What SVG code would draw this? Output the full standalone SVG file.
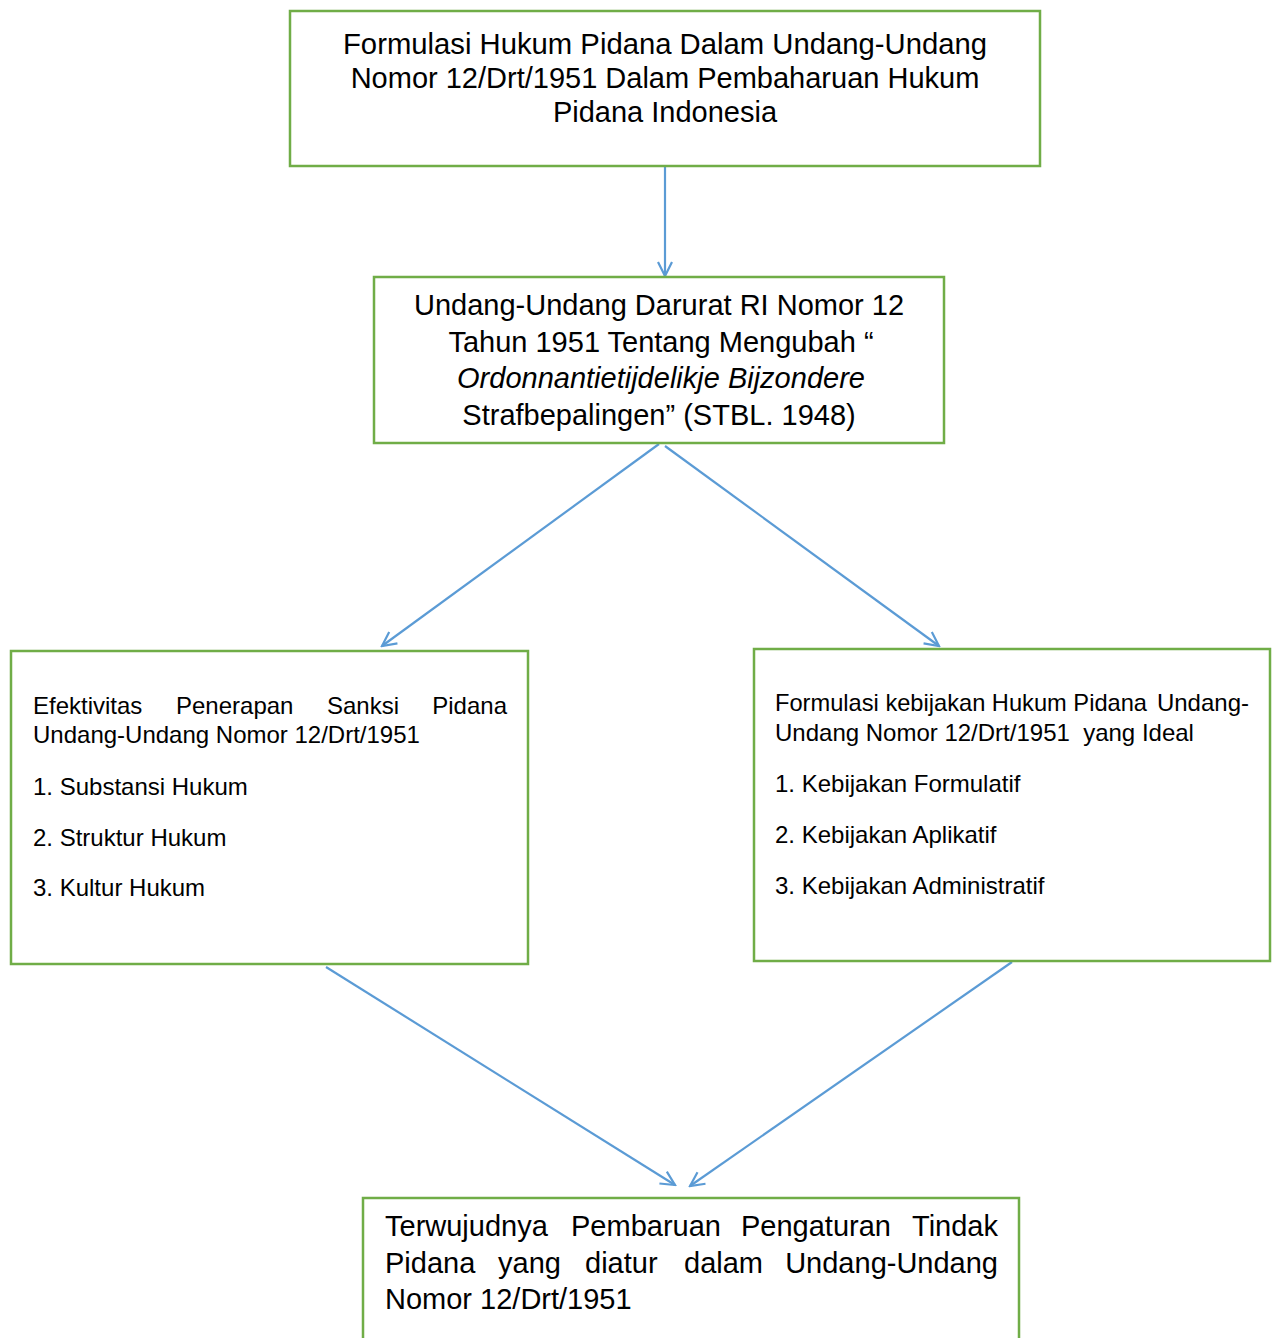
<svg xmlns="http://www.w3.org/2000/svg" width="1277" height="1338" viewBox="0 0 1277 1338">
<style>
.box{fill:#fff;stroke:#70AD47;stroke-width:2.5}
.big{font-family:"Liberation Sans",Arial,sans-serif;font-size:29px;fill:#000}
.sm{font-family:"Liberation Sans",Arial,sans-serif;font-size:24px;fill:#000}
.c{text-anchor:middle}
.e{text-anchor:end}
.it{font-style:italic}
.con{stroke:#5B9BD5;stroke-width:2.2;fill:none;marker-end:url(#arr)}
</style>
<defs>
<marker id="arr" viewBox="0 0 18 18" refX="16" refY="9" markerWidth="18" markerHeight="18" markerUnits="userSpaceOnUse" orient="auto">
<path d="M2,2 L16,9 L2,16" fill="none" stroke="#5B9BD5" stroke-width="2.2"/>
</marker>
</defs>
<rect width="1277" height="1338" fill="#fff"/>
<g id="connectors">
<line class="con" x1="665" y1="167" x2="665" y2="276"/>
<line class="con" x1="659" y1="444" x2="382" y2="646"/>
<line class="con" x1="665" y1="446" x2="939" y2="646"/>
<line class="con" x1="326" y1="967" x2="675" y2="1185"/>
<line class="con" x1="1012" y1="962" x2="690" y2="1186"/>
</g>
<g id="node1">
<rect class="box" x="290" y="11" width="750" height="155"/>
<text class="big c" x="665" y="54" textLength="644" lengthAdjust="spacingAndGlyphs">Formulasi Hukum Pidana Dalam Undang-Undang</text>
<text class="big c" x="665" y="88">Nomor 12/Drt/1951 Dalam Pembaharuan Hukum</text>
<text class="big c" x="665" y="122">Pidana Indonesia</text>
</g>
<g id="node2">
<rect class="box" x="374" y="277" width="570" height="166"/>
<text class="big c" x="659" y="315">Undang-Undang Darurat RI Nomor 12</text>
<text class="big c" x="661" y="352">Tahun 1951 Tentang Mengubah “</text>
<text class="big c it" x="661" y="388">Ordonnantietijdelikje Bijzondere</text>
<text class="big c" x="659" y="425">Strafbepalingen” (STBL. 1948)</text>
</g>
<g id="node3">
<rect class="box" x="11" y="651" width="517" height="313"/>
<text class="sm" x="33" y="713.5">Efektivitas</text>
<text class="sm" x="176" y="713.5">Penerapan</text>
<text class="sm" x="327" y="713.5">Sanksi</text>
<text class="sm e" x="507" y="713.5">Pidana</text>
<text class="sm" x="33" y="742.5">Undang-Undang Nomor 12/Drt/1951</text>
<text class="sm" x="33" y="794.5">1. Substansi Hukum</text>
<text class="sm" x="33" y="845.5">2. Struktur Hukum</text>
<text class="sm" x="33" y="895.5">3. Kultur Hukum</text>
</g>
<g id="node4">
<rect class="box" x="754" y="649" width="516" height="312"/>
<text class="sm" x="775" y="710.5" textLength="372" lengthAdjust="spacingAndGlyphs">Formulasi kebijakan Hukum Pidana</text>
<text class="sm e" x="1249" y="710.5">Undang-</text>
<text class="sm" x="775" y="740.5" xml:space="preserve">Undang Nomor 12/Drt/1951  yang Ideal</text>
<text class="sm" x="775" y="791.5">1. Kebijakan Formulatif</text>
<text class="sm" x="775" y="842.5">2. Kebijakan Aplikatif</text>
<text class="sm" x="775" y="893.5">3. Kebijakan Administratif</text>
</g>
<g id="node5">
<rect class="box" x="363" y="1198" width="656" height="150"/>
<text class="big" x="385" y="1236">Terwujudnya</text>
<text class="big" x="571" y="1236">Pembaruan</text>
<text class="big" x="741" y="1236">Pengaturan</text>
<text class="big e" x="998" y="1236">Tindak</text>
<text class="big" x="385" y="1273">Pidana</text>
<text class="big" x="498" y="1273">yang</text>
<text class="big" x="585" y="1273">diatur</text>
<text class="big" x="684" y="1273">dalam</text>
<text class="big e" x="998" y="1273">Undang-Undang</text>
<text class="big" x="385" y="1309">Nomor 12/Drt/1951</text>
</g>
</svg>
